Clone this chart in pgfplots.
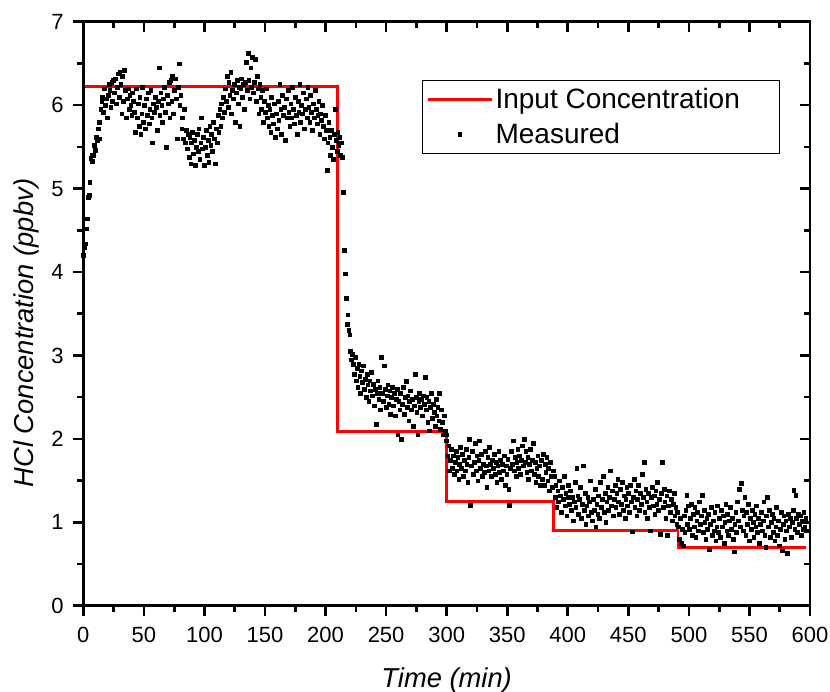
\documentclass[border=0pt]{standalone}
\usepackage{pgfplots}
\pgfplotsset{compat=1.18}
\usepackage{fontspec}
\setmainfont{Liberation Sans}
\pgfplotsset{
  lineleg/.style={legend image code/.code={\draw[##1] (0pt,0pt) -- (48pt,0pt);}},
  markleg/.style={legend image code/.code={\draw[mark repeat=2,mark phase=2,##1] plot coordinates {(0pt,0pt) (24pt,0pt) (48pt,0pt)};}},
  common/.style={
    scale only axis, width=545pt, height=438pt,
    xmin=0, xmax=600, ymin=0, ymax=7,
    xtick distance=50, ytick distance=1,
    minor x tick num=1, minor y tick num=1,
    line width=2pt,
    axis line style={line width=2pt},
    major tick length=7.5pt, minor tick length=4.5pt,
    every tick/.append style={line width=2pt, black},
  }
}
\begin{document}
\begin{tikzpicture}
\begin{axis}[common, clip=false,
  xtick pos=bottom, ytick pos=left, tick align=outside,
  /pgf/number format/assume math mode=true,
  tick label style={font=\fontsize{16.5}{19}\selectfont},
  xticklabel shift=4pt, yticklabel shift=3pt,
  every axis x label/.style={at={(axis description cs:0.5,-0.1393)}, anchor=base, font=\fontsize{20.5}{24}\selectfont\itshape},
  every axis y label/.style={at={(axis description cs:-0.0692,0.467)}, rotate=90, anchor=base, font=\fontsize{20.5}{24}\selectfont\itshape},
  xlabel={Time (min)}, ylabel={HCl Concentration (ppbv)},
  legend style={at={(rel axis cs:0.4657,0.900)}, anchor=north west, draw=black, line width=0.7pt,
    font=\fontsize{21}{25}\selectfont, inner xsep=3pt, inner ysep=4pt, row sep=5pt},
  legend cell align=left,
]
\addplot[red, line width=2pt, lineleg]
  coordinates {(0,6.22) (210,6.22) (210,2.09) (300,2.09) (300,1.25) (388,1.25) (388,0.90) (491,0.90) (491,0.70) (597,0.70)};
\addlegendentry{\makebox[208pt][l]{Input Concentration}}
\addplot[only marks, mark=square*, mark size=1.4pt, mark options={draw=black, fill=black, line width=0.1pt}, markleg]
  coordinates {
(0,4.20) (0.75,4.30) (1.5,4.34) (2.25,4.52) (3,4.64) (3.75,4.90) (4.5,4.92) (5.25,5.08) (6,5.37) (6.75,5.40) (7.5,5.33) (8.25,5.40)
(9,5.52) (9.75,5.46) (10.5,5.62) (11.25,5.58) (12,5.72) (12.75,5.80) (13.5,5.60) (14.25,5.95) (15,6.05) (15.75,6.10) (16.5,5.92) (17.25,6.20)
(18,6.00) (18.75,6.08) (19.5,5.85) (20.25,6.12) (21,6.25) (21.75,6.18) (22.5,5.98) (23.25,6.28) (24,6.05) (24.75,6.30) (25.5,6.15) (26.25,6.32)
(27,6.02) (27.75,6.22) (28.5,6.38) (29.25,6.10) (30,6.40) (30.75,6.25) (31.5,5.90) (32.25,6.35) (33,6.05) (33.75,6.42) (34.5,6.18) (35.25,5.85)
(36,6.08) (36.75,6.20) (37.5,5.95) (38.25,6.12) (39,6.00) (39.75,5.88) (40.5,6.15) (41.25,6.05) (42,5.92) (42.75,5.68) (43.5,6.20) (44.25,5.85)
(45,6.02) (45.75,5.75) (46.5,6.10) (47.25,5.65) (48,5.90) (48.75,6.22) (49.5,5.80) (50.25,6.00) (51,5.72) (51.75,6.08) (52.5,5.88) (53.25,6.15)
(54,5.78) (54.75,5.95) (55.5,6.18) (56.25,5.85) (57,5.55) (57.75,6.02) (58.5,5.92) (59.25,6.10) (60,5.98) (60.75,5.70) (61.5,6.05) (62.25,6.45)
(63,5.88) (63.75,6.15) (64.5,6.00) (65.25,5.80) (66,6.08) (66.75,6.22) (67.5,5.92) (68.25,5.50) (69,6.12) (69.75,6.02) (70.5,6.28) (71.25,5.85)
(72,6.30) (72.75,6.05) (73.5,6.35) (74.25,5.90) (75,6.18) (75.75,6.32) (76.5,6.08) (77.25,5.60) (78,6.22) (78.75,6.50) (79.5,6.00) (80.25,6.12)
(81,5.72) (81.75,5.85) (82.5,5.60) (83.25,5.95) (84,5.55) (84.75,5.70) (85.5,5.48) (86.25,5.65) (87,5.38) (87.75,5.62) (88.5,5.30) (89.25,5.55)
(90,5.68) (90.75,5.42) (91.5,5.58) (92.25,5.28) (93,5.50) (93.75,5.65) (94.5,5.45) (95.25,5.72) (96,5.35) (96.75,5.55) (97.5,5.85) (98.25,5.48)
(99,5.62) (99.75,5.28) (100.5,5.50) (101.25,5.70) (102,5.40) (102.75,5.58) (103.5,5.32) (104.25,5.75) (105,5.52) (105.75,5.65) (106.5,5.45) (107.25,5.80)
(108,5.60) (108.75,5.30) (109.5,5.72) (110.25,5.55) (111,5.88) (111.75,5.68) (112.5,5.95) (113.25,5.75) (114,6.02) (114.75,5.85) (115.5,6.10) (116.25,5.92)
(117,6.20) (117.75,6.05) (118.5,6.35) (119.25,5.98) (120,6.28) (120.75,6.12) (121.5,6.40) (122.25,5.90) (123,6.18) (123.75,6.08) (124.5,6.25) (125.25,5.80)
(126,6.15) (126.75,6.30) (127.5,6.02) (128.25,6.22) (129,5.75) (129.75,6.20) (130.5,6.32) (131.25,6.10) (132,6.25) (132.75,5.95) (133.5,6.28) (134.25,6.52)
(135,6.18) (135.75,6.62) (136.5,6.30) (137.25,6.08) (138,6.45) (138.75,6.22) (139.5,6.58) (140.25,6.15) (141,6.28) (141.75,6.55) (142.5,6.05) (143.25,6.35)
(144,6.20) (144.75,5.90) (145.5,6.25) (146.25,6.10) (147,5.95) (147.75,6.18) (148.5,5.80) (149.25,6.05) (150,5.92) (150.75,6.20) (151.5,5.85) (152.25,6.00)
(153,5.75) (153.75,5.95) (154.5,5.68) (155.25,6.10) (156,5.88) (156.75,5.78) (157.5,6.02) (158.25,5.62) (159,5.90) (159.75,5.72) (160.5,6.05) (161.25,5.82)
(162,6.25) (162.75,5.95) (163.5,5.65) (164.25,6.12) (165,5.88) (165.75,5.98) (166.5,5.58) (167.25,6.08) (168,5.85) (168.75,6.18) (169.5,5.92) (170.25,5.75)
(171,6.02) (171.75,5.85) (172.5,6.22) (173.25,5.95) (174,5.78) (174.75,6.10) (175.5,5.88) (176.25,5.65) (177,6.05) (177.75,5.92) (178.5,6.25) (179.25,5.80)
(180,6.00) (180.75,5.90) (181.5,6.15) (182.25,5.72) (183,5.95) (183.75,6.08) (184.5,5.85) (185.25,6.22) (186,5.98) (186.75,5.80) (187.5,6.12) (188.25,5.92)
(189,5.70) (189.75,6.02) (190.5,5.85) (191.25,6.18) (192,5.95) (192.75,5.78) (193.5,5.88) (194.25,6.05) (195,5.65) (195.75,5.90) (196.5,5.82) (197.25,6.00)
(198,5.75) (198.75,5.60) (199.5,5.88) (200.25,5.70) (201,5.22) (201.75,5.55) (202.5,5.80) (203.25,5.62) (204,5.40) (204.75,5.70) (205.5,5.50) (206.25,5.35)
(207,5.65) (207.75,5.95) (208.5,5.58) (209.25,5.45) (210,5.68) (210.75,5.52) (211.5,5.62) (212.25,5.40) (213,5.55) (213.75,5.38) (214.5,4.96) (215.25,4.26)
(216,3.98) (216.75,3.69) (217.5,3.38) (218.25,3.49) (219,3.30) (219.75,3.25) (220.5,3.05) (221.25,2.95) (222,3.02) (222.75,2.90) (223.5,2.78) (224.25,2.98)
(225,2.70) (225.75,2.85) (226.5,2.62) (227.25,2.90) (228,2.75) (228.75,2.55) (229.5,2.82) (230.25,2.68) (231,2.88) (231.75,2.60) (232.5,2.72) (233.25,2.50)
(234,2.78) (234.75,2.65) (235.5,2.45) (236.25,2.70) (237,2.58) (237.75,2.80) (238.5,2.52) (239.25,2.66) (240,2.40) (240.75,2.60) (241.5,2.18) (242.25,2.55)
(243,2.70) (243.75,2.48) (244.5,2.62) (245.25,2.35) (246,2.98) (246.75,2.55) (247.5,2.45) (248.25,2.88) (249,2.60) (249.75,2.38) (250.5,2.52) (251.25,2.65)
(252,2.42) (252.75,2.58) (253.5,2.30) (254.25,2.50) (255,2.62) (255.75,2.40) (256.5,2.55) (257.25,2.28) (258,2.48) (258.75,2.60) (259.5,2.05) (260.25,2.45)
(261,2.35) (261.75,2.55) (262.5,2.00) (263.25,2.42) (264,2.62) (264.75,2.30) (265.5,2.50) (266.25,2.69) (267,2.38) (267.75,2.52) (268.5,2.22) (269.25,2.45)
(270,2.58) (270.75,2.35) (271.5,2.48) (272.25,2.15) (273,2.40) (273.75,2.78) (274.5,2.50) (275.25,2.32) (276,2.05) (276.75,2.45) (277.5,2.55) (278.25,2.38)
(279,2.48) (279.75,2.28) (280.5,2.52) (281.25,2.42) (282,2.74) (282.75,2.35) (283.5,2.50) (284.25,2.20) (285,2.45) (285.75,2.10) (286.5,2.38) (287.25,2.55)
(288,2.25) (288.75,2.42) (289.5,2.32) (290.25,2.15) (291,2.48) (291.75,2.28) (292.5,2.38) (293.25,2.22) (294,2.55) (294.75,2.12) (295.5,2.35) (296.25,2.20)
(297,2.05) (297.75,2.28) (298.5,2.10) (299.25,1.98) (300,2.05) (300.75,1.80) (301.5,1.92) (302.25,1.62) (303,1.75) (303.75,1.88) (304.5,1.65) (305.25,1.80)
(306,1.58) (306.75,1.72) (307.5,1.85) (308.25,1.62) (309,1.78) (309.75,1.52) (310.5,1.70) (311.25,1.90) (312,1.65) (312.75,1.82) (313.5,1.55) (314.25,1.75)
(315,1.62) (315.75,1.88) (316.5,1.70) (317.25,1.48) (318,1.78) (318.75,2.00) (319.5,1.21) (320.25,1.68) (321,1.85) (321.75,1.58) (322.5,1.72) (323.25,1.95)
(324,1.62) (324.75,1.80) (325.5,1.50) (326.25,1.75) (327,1.98) (327.75,1.65) (328.5,1.82) (329.25,1.55) (330,1.70) (330.75,1.60) (331.5,1.85) (332.25,1.68)
(333,1.42) (333.75,1.78) (334.5,1.62) (335.25,1.90) (336,1.70) (336.75,1.55) (337.5,1.75) (338.25,1.65) (339,1.82) (339.75,1.58) (340.5,1.72) (341.25,1.48)
(342,1.68) (342.75,1.85) (343.5,1.60) (344.25,1.75) (345,1.52) (345.75,1.70) (346.5,1.62) (347.25,1.80) (348,1.45) (348.75,1.68) (349.5,1.58) (350.25,1.76)
(351,1.40) (351.75,1.21) (352.5,1.65) (353.25,1.85) (354,1.70) (354.75,1.98) (355.5,1.62) (356.25,1.78) (357,1.55) (357.75,1.72) (358.5,1.88) (359.25,1.65)
(360,1.80) (360.75,1.58) (361.5,1.75) (362.25,1.92) (363,1.68) (363.75,2.00) (364.5,1.72) (365.25,1.85) (366,1.60) (366.75,1.78) (367.5,1.52) (368.25,1.70)
(369,1.88) (369.75,1.62) (370.5,1.75) (371.25,1.95) (372,1.58) (372.75,1.72) (373.5,1.48) (374.25,1.65) (375,1.80) (375.75,1.55) (376.5,1.68) (377.25,1.45)
(378,1.75) (378.75,1.52) (379.5,1.82) (380.25,1.45) (381,1.70) (381.75,1.60) (382.5,1.78) (383.25,1.50) (384,1.65) (384.75,1.38) (385.5,1.72) (386.25,1.55)
(387,1.42) (387.75,1.62) (388.5,1.55) (389.25,1.30) (390,1.45) (390.75,1.18) (391.5,1.38) (392.25,1.25) (393,1.50) (393.75,1.32) (394.5,1.12) (395.25,1.42)
(396,1.28) (396.75,1.55) (397.5,1.20) (398.25,1.35) (399,1.08) (399.75,1.30) (400.5,1.45) (401.25,1.22) (402,1.38) (402.75,1.15) (403.5,1.30) (404.25,1.02)
(405,1.25) (405.75,1.48) (406.5,1.18) (407.25,1.65) (408,1.32) (408.75,1.10) (409.5,1.28) (410.25,1.42) (411,1.05) (411.75,1.22) (412.5,1.68) (413.25,1.15)
(414,1.35) (414.75,0.98) (415.5,1.20) (416.25,1.30) (417,1.08) (417.75,1.25) (418.5,1.50) (419.25,1.12) (420,1.02) (420.75,1.28) (421.5,1.15) (422.25,1.40)
(423,0.95) (423.75,1.22) (424.5,1.10) (425.25,1.32) (426,1.05) (426.75,1.48) (427.5,1.18) (428.25,1.28) (429,1.55) (429.75,1.12) (430.5,1.35) (431.25,1.00)
(432,1.25) (432.75,1.42) (433.5,1.15) (434.25,1.30) (435,1.62) (435.75,1.20) (436.5,1.38) (437.25,1.08) (438,1.28) (438.75,1.45) (439.5,1.18) (440.25,1.35)
(441,1.52) (441.75,1.25) (442.5,1.10) (443.25,1.40) (444,1.22) (444.75,1.48) (445.5,1.15) (446.25,1.32) (447,1.05) (447.75,1.28) (448.5,1.42) (449.25,1.20)
(450,1.35) (450.75,1.12) (451.5,1.45) (452.25,1.25) (453,0.89) (453.75,1.30) (454.5,1.52) (455.25,1.18) (456,1.38) (456.75,1.08) (457.5,1.28) (458.25,1.45)
(459,1.15) (459.75,1.35) (460.5,1.22) (461.25,1.58) (462,1.30) (462.75,1.72) (463.5,1.12) (464.25,1.40) (465,1.25) (465.75,1.05) (466.5,1.35) (467.25,1.18)
(468,0.90) (468.75,1.30) (469.5,1.42) (470.25,1.20) (471,1.32) (471.75,1.10) (472.5,1.38) (473.25,1.22) (474,1.48) (474.75,1.15) (475.5,1.28) (476.25,0.86)
(477,1.35) (477.75,1.72) (478.5,1.18) (479.25,1.40) (480,1.25) (480.75,1.05) (481.5,1.32) (482.25,0.85) (483,1.20) (483.75,1.38) (484.5,1.12) (485.25,1.28)
(486,1.02) (486.75,1.22) (487.5,1.35) (488.25,1.08) (489,1.18) (489.75,0.98) (490.5,1.12) (491.25,0.95) (492,0.80) (492.75,1.05) (493.5,0.75) (494.25,0.92)
(495,0.72) (495.75,1.08) (496.5,0.88) (497.25,1.15) (498,1.33) (498.75,0.98) (499.5,1.20) (500.25,0.92) (501,1.05) (501.75,1.22) (502.5,0.85) (503.25,1.10)
(504,0.95) (504.75,1.18) (505.5,0.82) (506.25,1.02) (507,1.12) (507.75,0.90) (508.5,1.25) (509.25,0.98) (510,1.08) (510.75,1.33) (511.5,0.88) (512.25,1.15)
(513,1.00) (513.75,0.80) (514.5,1.05) (515.25,0.92) (516,1.10) (516.75,0.68) (517.5,0.98) (518.25,1.18) (519,0.85) (519.75,1.02) (520.5,0.90) (521.25,1.12)
(522,0.78) (522.75,0.95) (523.5,1.20) (524.25,0.88) (525,1.05) (525.75,0.82) (526.5,1.15) (527.25,0.95) (528,1.08) (528.75,0.75) (529.5,1.00) (530.25,1.22)
(531,0.90) (531.75,1.10) (532.5,0.85) (533.25,1.02) (534,1.18) (534.75,0.92) (535.5,1.05) (536.25,0.80) (537,0.65) (537.75,0.98) (538.5,1.12) (539.25,0.88)
(540,1.25) (540.75,1.02) (541.5,1.40) (542.25,0.95) (543,1.47) (543.75,1.15) (544.5,0.90) (545.25,1.08) (546,1.30) (546.75,0.85) (547.5,1.12) (548.25,0.98)
(549,1.22) (549.75,0.78) (550.5,1.05) (551.25,0.92) (552,1.15) (552.75,1.00) (553.5,0.82) (554.25,1.10) (555,0.95) (555.75,1.20) (556.5,0.88) (557.25,1.05)
(558,0.75) (558.75,0.98) (559.5,1.12) (560.25,0.90) (561,1.02) (561.75,1.25) (562.5,0.85) (563.25,0.70) (564,1.08) (564.75,1.30) (565.5,0.95) (566.25,1.15)
(567,0.82) (567.75,1.00) (568.5,1.10) (569.25,0.88) (570,1.05) (570.75,0.78) (571.5,0.95) (572.25,1.18) (573,0.85) (573.75,1.02) (574.5,0.72) (575.25,0.92)
(576,1.12) (576.75,0.66) (577.5,0.98) (578.25,1.08) (579,0.80) (579.75,1.02) (580.5,0.90) (581.25,0.63) (582,1.10) (582.75,0.95) (583.5,1.05) (584.25,0.82)
(585,1.00) (585.75,1.15) (586.5,1.39) (587.25,0.92) (588,1.33) (588.75,1.05) (589.5,0.88) (590.25,1.10) (591,0.98) (591.75,1.08) (592.5,0.85) (593.25,1.02)
(594,0.92) (594.75,1.12) (595.5,0.95) (596.25,1.05) (597,0.90)
  };
\addlegendentry{Measured}
\draw[line width=2pt, line cap=rect] (rel axis cs:0,0) rectangle (rel axis cs:1,1);
\coordinate (ll) at (rel axis cs:0,0);
\coordinate (ur) at (rel axis cs:1,1);
\end{axis}
\begin{axis}[common,
  xtick pos=top, ytick pos=right, tick align=inside,
  xticklabels={}, yticklabels={},
]
\end{axis}
\pgfresetboundingbox
\path ([xshift=-62.5pt,yshift=-64.7pt]ll) rectangle ([xshift=15pt,yshift=16.3pt]ur);
\end{tikzpicture}
\end{document}
